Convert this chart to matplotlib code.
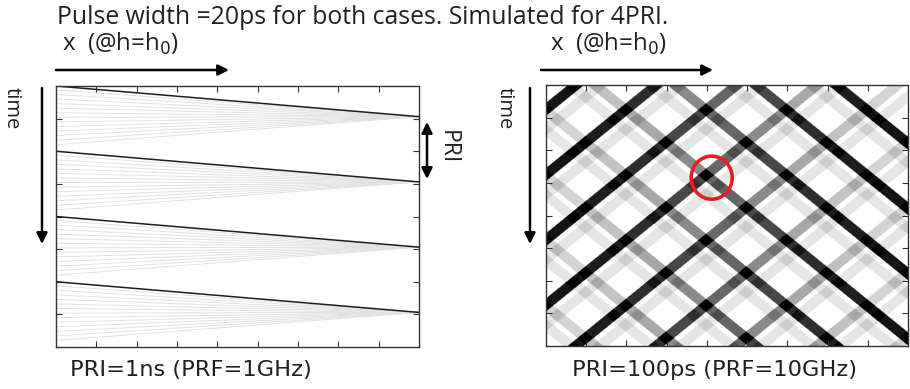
import matplotlib
matplotlib.use("Agg")
import matplotlib.pyplot as plt
import numpy as np
from matplotlib.patches import Ellipse, FancyArrowPatch

# left panel: PRI = 1 ns, simulated for 4 PRI
pulse_start_left = [0.0, 1.0, 2.0, 3.0]      # ns, pulse enters at x=0
pulse_end_left = 0.47                        # ns after start, reaches right edge
fan_offsets = [0.06, 0.13, 0.20, 0.27, 0.34, 0.41, 0.48, 0.55, 0.62, 0.69, 0.76, 0.83, 0.90]

# right panel: PRI = 100 ps, bands t = t0 -/+ 50*x  (ps)
rise_t0 = [37, 137, 237, 337, 437, 537, 637, 737, 837]
fall_t0 = [-361, -261, -161, -61, 39, 139, 239, 339]
rise_level = [0.92, 0.88, 0.82, 0.72, 0.6, 0.46, 0.34, 0.24, 0.17]   # per x segment
fall_level = [0.17, 0.24, 0.34, 0.46, 0.6, 0.72, 0.82, 0.88, 0.92]
ghost_shift = 30      # ps, faint copy of each band
ghost_level = 0.1
pulse_width = 20      # ps

circle_x, circle_t = 4.12, 142

fig = plt.figure(figsize=(9.1, 3.89), dpi=100)
H = 389.0

def fpx(x, y):
    return (x, H - y)

# ---------------- left panel
ax1 = fig.add_axes([56 / 910, 1 - 347 / H, 363 / 910, 261 / H])
for k in pulse_start_left:
    for s in fan_offsets:
        ax1.plot([0, 9], [k + s, k + pulse_end_left], color="#e2e2e2", lw=0.7, zorder=1)
for k in pulse_start_left:
    ax1.plot([0, 9], [k, k + pulse_end_left], color="#1e1e1e", lw=1.1, zorder=2)
ax1.set_xlim(0, 9)
ax1.set_ylim(4, 0)

# ---------------- right panel
ax2 = fig.add_axes([546 / 910, 1 - 346 / H, 362 / 910, 261 / H])
xs = np.linspace(0, 9, 1100)
ts = np.linspace(0, 400, 900)
X, T = np.meshgrid(xs, ts)
seg = np.clip(X.astype(int), 0, 8)
I = np.zeros_like(X)
rl = np.array(rise_level)
fl = np.array(fall_level)
for t0 in rise_t0:
    I += rl[seg] * (np.abs(T - (t0 - 50 * X)) < pulse_width / 2)
    I += ghost_level * (np.abs(T - (t0 + ghost_shift - 50 * X)) < pulse_width / 2)
for t0 in fall_t0:
    I += fl[seg] * (np.abs(T - (t0 + 50 * X)) < pulse_width / 2)
    I += ghost_level * (np.abs(T - (t0 + ghost_shift + 50 * X)) < pulse_width / 2)
ax2.imshow(np.clip(I, 0, 1), cmap="gray_r", vmin=0, vmax=1, extent=[0, 9, 400, 0],
           aspect="auto", interpolation="antialiased")
ax2.add_patch(Ellipse((circle_x, circle_t), 1.02, 66, fill=False, ec="#e41f26", lw=2.6))
ax2.set_xlim(0, 9)
ax2.set_ylim(400, 0)

for ax, yt in [(ax1, [0.5, 1, 1.5, 2, 2.5, 3, 3.5]), (ax2, [50, 100, 150, 200, 250, 300, 350])]:
    ax.set_xticks(range(1, 9))
    ax.set_yticks(yt)
    ax.tick_params(direction="in", length=4, width=0.8, color="#333333",
                   top=True, right=True, labelbottom=False, labelleft=False)
    for sp in ax.spines.values():
        sp.set_color("#333333")
        sp.set_linewidth(1.0)

# ---------------- annotations
fnt = "Open Sans"
tc = "#231f20"
fig.text(57 / 910, 1 - 17 / H, "Pulse width =20ps for both cases. Simulated for 4PRI.",
         fontsize=17.8, family=fnt, va="center", ha="left", color=tc)
for x0 in [62, 550]:
    fig.text(x0 / 910, 1 - 44 / H, r"x  (@h=h$_0$)", fontsize=17.3, family=fnt,
             va="center", ha="left", color=tc)

arrow = dict(arrowstyle="-|>", lw=1.8, color="k", mutation_scale=16, shrinkA=0, shrinkB=0)
for xa, xb in [(56, 229), (541, 713)]:
    fig.add_artist(FancyArrowPatch(fpx(xa, 70), fpx(xb, 70), transform=None, **arrow))
for xa in [42, 530]:
    fig.add_artist(FancyArrowPatch(fpx(xa, 88), fpx(xa, 244), transform=None, **arrow))
fig.add_artist(FancyArrowPatch(fpx(427, 122), fpx(427, 179), transform=None,
                               arrowstyle="<|-|>", lw=1.8, color="k", mutation_scale=16,
                               shrinkA=0, shrinkB=0))

for xt in [12, 505]:
    fig.text(xt / 910, 1 - 108 / H, "time", rotation=-90, fontsize=14.5, family=fnt,
             va="center", ha="center", color=tc)
fig.text(448 / 910, 1 - 147 / H, "PRI", rotation=-90, fontsize=16.5, family=fnt,
         va="center", ha="center", color=tc)

cond = ["DejaVu Sans Condensed", "DejaVu Sans"]
fig.text(70 / 910, 1 - 370 / H, "PRI=1ns (PRF=1GHz)", fontsize=16.2, family=cond,
         va="center", ha="left", color=tc)
fig.text(572 / 910, 1 - 370 / H, "PRI=100ps (PRF=10GHz)", fontsize=16.2, family=cond,
         va="center", ha="left", color=tc)

fig.savefig("out.png", dpi=100)
